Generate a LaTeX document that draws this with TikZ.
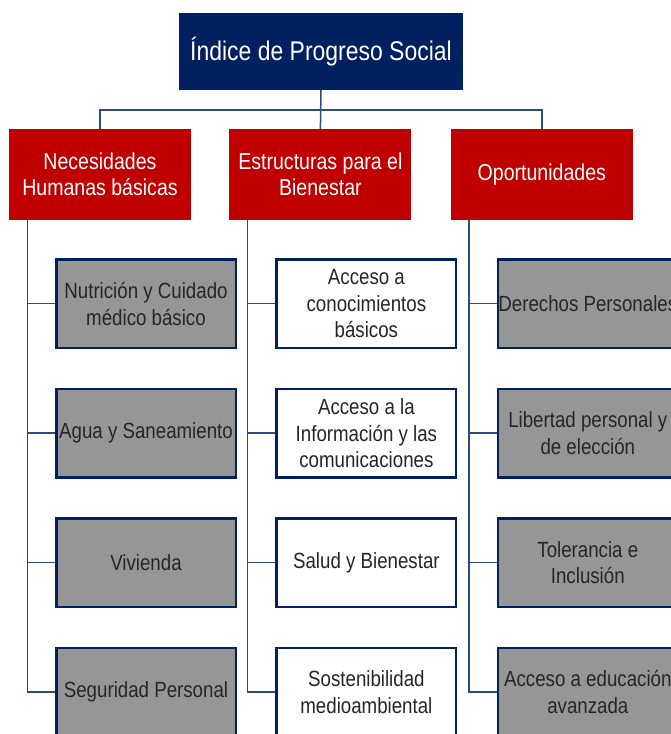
\documentclass[tikz,border=0pt]{standalone}
\usepackage{fontspec}
\setmainfont[FakeStretch=0.85]{Liberation Sans}
\usepackage{xcolor}
\usetikzlibrary{positioning,calc}

\definecolor{ipsnavy}{RGB}{0,32,96}
\definecolor{ipsred}{RGB}{192,0,0}
\definecolor{ipsgrey}{RGB}{150,150,150}
\definecolor{ipsline}{RGB}{47,74,130}
\definecolor{ipstext}{RGB}{38,38,38}

\begin{document}
\begin{tikzpicture}[x=1pt, y=1pt, node distance=38.5pt,
        titlebox/.style={fill=ipsnavy, text=white, minimum width=284pt, minimum height=77pt, inner sep=0pt, font=\fontsize{27}{32}\selectfont},
        pillar/.style={fill=ipsred, text=white, minimum width=182pt, minimum height=91pt, inner sep=0pt, align=center, font=\fontsize{23}{26}\selectfont},
        itembox/.style={draw=ipsnavy, line width=2.5pt, minimum width=179.5pt, minimum height=88.5pt, inner xsep=-4pt, text width=187.5pt, align=flush center, text=ipstext, font=\fontsize{22}{26.7}\selectfont},
        greybox/.style={itembox, fill=ipsgrey},
        whitebox/.style={itembox, fill=white},
        link/.style={draw=ipsline, line width=1.5pt}
    ]
        \useasboundingbox (0,0) rectangle (671,-734);
        \clip (0,0) rectangle (671,-734);

        \node [titlebox] (ips) at (321,-51.5) {Índice de Progreso Social};

        \node [pillar] (nhb) at (100,-174.5) {Necesidades\\Humanas básicas};
        \node [pillar, right=38pt of nhb] (ebi) {Estructuras para el\\Bienestar};
        \node [pillar, right=39pt of ebi] (opo) {Oportunidades};

        % Necesidades Humanas basicas
        \node [greybox, below=38pt of nhb, xshift=46pt] (nhb1) {Nutrición y Cuidado\\médico básico};
        \node [greybox, below=of nhb1] (nhb2) {Agua y Saneamiento};
        \node [greybox, below=of nhb2] (nhb3) {Vivienda};
        \node [greybox, below=of nhb3] (nhb4) {Seguridad Personal};

        % Estructuras para el Bienestar
        \node [whitebox, below=38pt of ebi, xshift=46pt] (ebi1) {Acceso a\\conocimientos\\básicos};
        \node [whitebox, below=of ebi1] (ebi2) {Acceso a la\\Información y las\\comunicaciones};
        \node [whitebox, below=of ebi2] (ebi3) {Salud y Bienestar};
        \node [whitebox, below=of ebi3] (ebi4) {Sostenibilidad\\medioambiental};

        % Oportunidades
        \node [greybox, below=38pt of opo, xshift=46pt] (opo1) {Derechos Personales};
        \node [greybox, below=of opo1] (opo2) {Libertad personal y\\de elección};
        \node [greybox, below=of opo2] (opo3) {Tolerancia e\\Inclusión};
        \node [greybox, below=of opo3] (opo4) {Acceso a educación\\avanzada};

        \draw [link] (nhb.north) -- ++(0,19) -| (opo.north);
        \draw [link] (ips.south) -- (ebi.north);

        \foreach \col in {nhb,ebi,opo}{
            \coordinate (\col rail) at ($(\col.south west)+(18.5,0)$);
            \draw [link] (\col rail) |- (\col4.west);
            \foreach \i in {1,2,3}
                \draw [link] (\col rail |- \col\i.west) -- (\col\i.west);
        }
    \end{tikzpicture}
\end{document}
